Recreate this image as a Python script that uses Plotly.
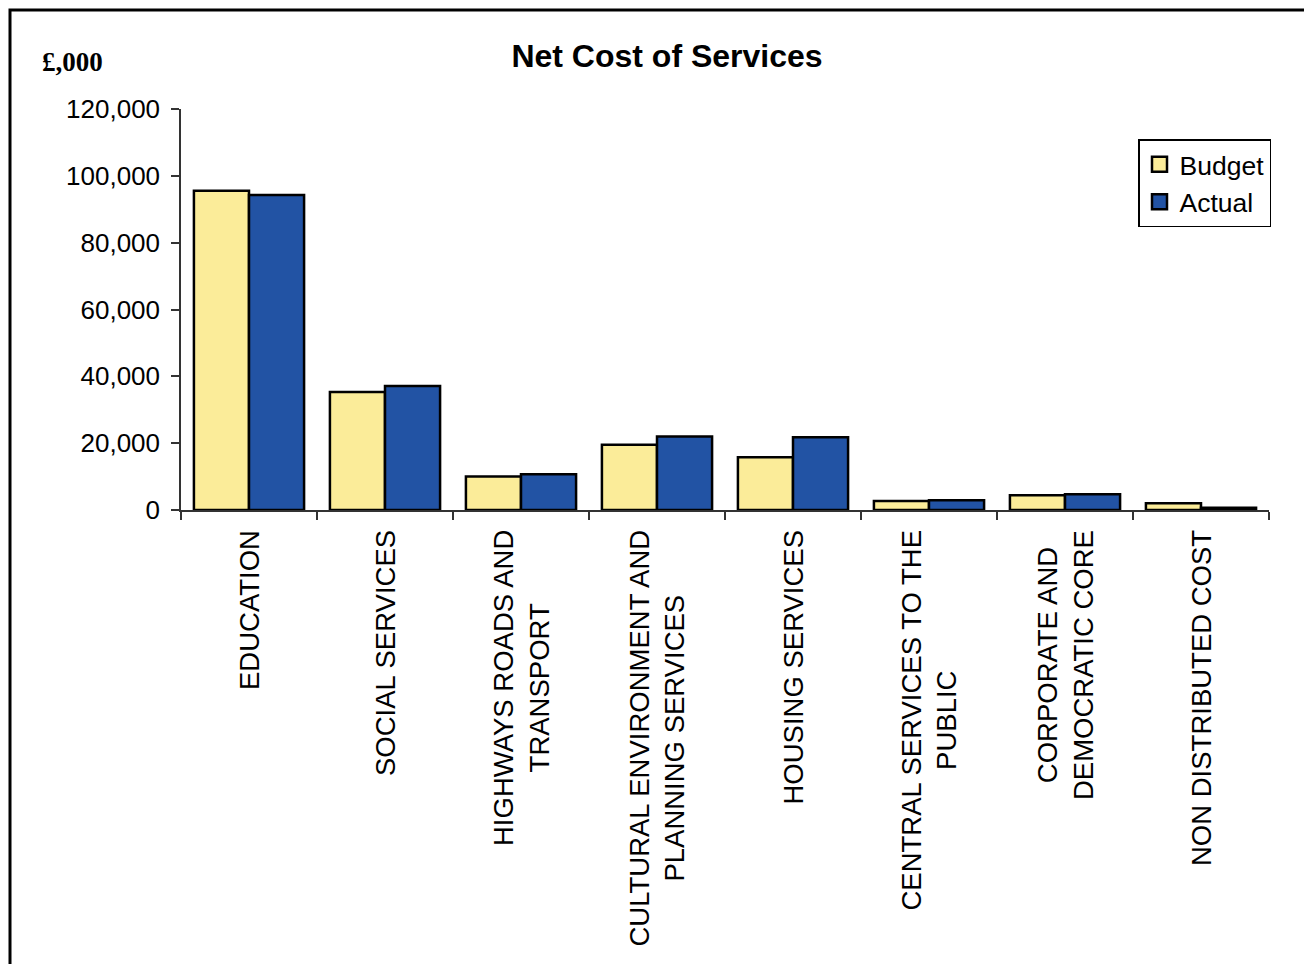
import plotly.graph_objects as go

categories = [
    "EDUCATION",
    "SOCIAL SERVICES",
    "HIGHWAYS ROADS AND<br>TRANSPORT",
    "CULTURAL ENVIRONMENT AND<br>PLANNING SERVICES",
    "HOUSING SERVICES",
    "CENTRAL SERVICES TO THE<br>PUBLIC",
    "CORPORATE AND<br>DEMOCRATIC CORE",
    "NON DISTRIBUTED COST",
]
budget = [95500, 35300, 10000, 19500, 15800, 2700, 4400, 2000]
actual = [94300, 37100, 10700, 22000, 21800, 2900, 4700, 700]
y_ticks = [0, 20000, 40000, 60000, 80000, 100000, 120000]

FONT = "Liberation Sans, Arial, sans-serif"
BUDGET_COLOR = "#FBEC99"
ACTUAL_COLOR = "#2253A4"

# page is offset by the 8px default body margin
OFF = 8
W, H = 1312 - OFF, 964 - OFF
L, T = 181 - OFF, 109 - OFF
R = W - (1269 - OFF)
B = H - (510 - OFF)
pw = W - L - R
ph = H - T - B


def px_x(p):  # page x -> paper x
    return (p - OFF - L) / pw


def px_y(p):  # page y -> paper y
    return (510 - p) / ph


fig = go.Figure()
fig.add_trace(go.Bar(name="Budget", x=categories, y=budget, showlegend=False,
                     marker=dict(color=BUDGET_COLOR, line=dict(color="black", width=2.5))))
fig.add_trace(go.Bar(name="Actual", x=categories, y=actual, showlegend=False,
                     marker=dict(color=ACTUAL_COLOR, line=dict(color="black", width=2.5))))
# legend entries with larger square swatches
for name, col in [("Budget", BUDGET_COLOR), ("Actual", ACTUAL_COLOR)]:
    fig.add_trace(go.Scatter(name=name, x=[None], y=[None], mode="markers",
                             marker=dict(symbol="square", size=15, color=col,
                                         line=dict(color="black", width=2.5))))

fig.update_layout(
    width=W, height=H,
    margin=dict(l=L, r=R, t=T, b=B),
    paper_bgcolor="white", plot_bgcolor="white",
    barmode="group", bargap=0.19, bargroupgap=0,
    font=dict(family=FONT, size=26, color="black"),
    title=dict(text="<b>Net Cost of Services</b>", x=(667 - OFF) / W, xref="container",
               xanchor="center", y=1 - (56 - OFF) / H, yref="container", yanchor="middle",
               font=dict(family=FONT, size=32, color="black")),
    showlegend=True,
    legend=dict(x=px_x(1271), xanchor="right", y=px_y(139), yanchor="top",
                bordercolor="black", borderwidth=1.5, bgcolor="white",
                font=dict(family=FONT, size=26.5, color="black"),
                itemwidth=30, tracegroupgap=0, itemsizing="trace"),
    xaxis=dict(type="category", showticklabels=False, showline=True, linecolor="#333",
               linewidth=1.5, ticks="outside", tickson="boundaries", ticklen=8,
               tickcolor="#333", tickwidth=1.5, showgrid=False, zeroline=False),
    yaxis=dict(range=[0, 120000], tickvals=y_ticks, tickformat=",d", showline=True,
               linecolor="#333", linewidth=1.5, ticks="outside", ticklen=8,
               tickcolor="#333", tickwidth=1.5, showgrid=False, zeroline=False,
               ticklabelstandoff=6,
               tickfont=dict(family=FONT, size=26, color="black")),
)

for c in categories:
    fig.add_annotation(x=c, xref="x", y=0, yref="paper", yanchor="top", yshift=-18,
                       text=c, textangle=-90, showarrow=False, align="center",
                       font=dict(family=FONT, size=27.5, color="black"))

fig.add_annotation(x=px_x(40), xref="paper", y=px_y(62), yref="paper",
                   xanchor="left", yanchor="middle", text="<b>£,000</b>", showarrow=False,
                   font=dict(family="Liberation Serif, Times New Roman, serif", size=27,
                             color="black"))

fig.add_shape(type="rect", xref="paper", yref="paper",
              x0=px_x(10), x1=px_x(1340), y0=px_y(1000), y1=px_y(10),
              line=dict(color="black", width=3), fillcolor="rgba(0,0,0,0)", layer="above")

fig.write_html("out.html")
